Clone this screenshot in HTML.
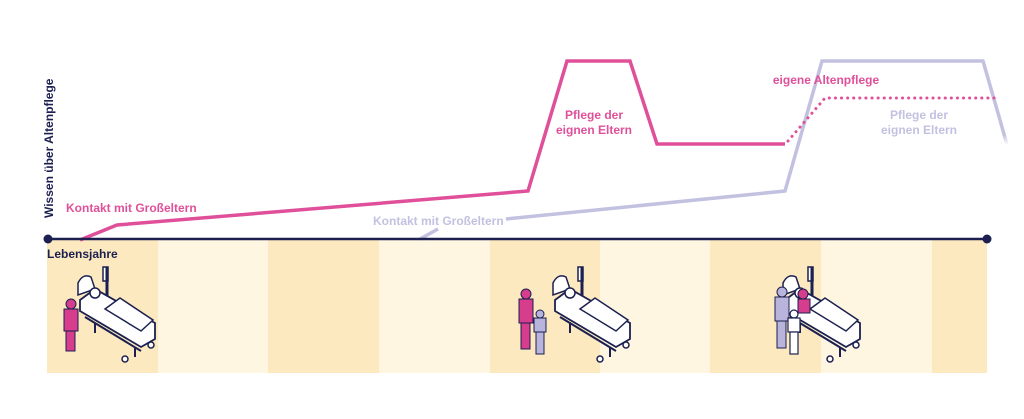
<!DOCTYPE html>
<html><head><meta charset="utf-8"><style>
body{margin:0;background:#fff;}
svg{display:block;font-family:"Liberation Sans",sans-serif;font-weight:bold;}
</style></head><body>
<svg width="1024" height="419" viewBox="0 0 1024 419">
<defs>
<linearGradient id="fade" x1="0" y1="0" x2="0" y2="1">
<stop offset="0" stop-color="#c3c1e0"/><stop offset="0.6" stop-color="#c3c1e0"/><stop offset="1" stop-color="#c3c1e0" stop-opacity="0"/>
</linearGradient>
<g id="bed">
<rect x="38" y="2" width="5" height="14" fill="#fff" stroke="#1b2050" stroke-width="1.5"/>
<line x1="42" y1="2" x2="42" y2="50" stroke="#1b2050" stroke-width="3"/>
<path d="M13,30 L13,18 Q18,8 26,12 L30,24 Z" fill="#fff" stroke="#1b2050" stroke-width="1.5"/>
<path d="M15,35 L30,24 L90,58 L90,74 L76,82 L15,46 Z" fill="#fff" stroke="#1b2050" stroke-width="1.8"/>
<path d="M40,44 L55,33 L88,55 L76,66 Z" fill="#fff" stroke="#1b2050" stroke-width="1.5"/>
<circle cx="30" cy="28" r="5" fill="#fff" stroke="#1b2050" stroke-width="1.5"/>
<line x1="20" y1="52" x2="76" y2="86" stroke="#1b2050" stroke-width="2"/>
<line x1="30" y1="58" x2="30" y2="68" stroke="#1b2050" stroke-width="2"/>
<line x1="70" y1="82" x2="70" y2="92" stroke="#1b2050" stroke-width="2"/>
<circle cx="60" cy="94" r="3" fill="#fff" stroke="#1b2050" stroke-width="1.5"/>
<circle cx="86" cy="80" r="3" fill="#fff" stroke="#1b2050" stroke-width="1.5"/>
</g>
</defs>
<g>
<rect x="47" y="240" width="111" height="133" fill="#fde9bf"/>
<rect x="158" y="240" width="110" height="133" fill="#fef6e0"/>
<rect x="268" y="240" width="111" height="133" fill="#fde9bf"/>
<rect x="379" y="240" width="111" height="133" fill="#fef6e0"/>
<rect x="490" y="240" width="110" height="133" fill="#fde9bf"/>
<rect x="600" y="240" width="110" height="133" fill="#fef6e0"/>
<rect x="710" y="240" width="111" height="133" fill="#fde9bf"/>
<rect x="821" y="240" width="111" height="133" fill="#fef6e0"/>
<rect x="932" y="240" width="55" height="133" fill="#fde9bf"/>
</g>
<!-- lavender line -->
<polyline points="420,239 438,229" fill="none" stroke="#c3c1e0" stroke-width="3.5"/>
<polyline points="506,219 785,191 822,61 983,61 1000,120" fill="none" stroke="#c3c1e0" stroke-width="3.5"/>
<line x1="1000" y1="120" x2="1007" y2="145" stroke="url(#fade)" stroke-width="3.5"/>
<!-- pink -->
<polyline points="80,240 117,225 528,191 567,61 630,61 657,144 785,144" fill="none" stroke="#e0509a" stroke-width="3.5"/>
<polyline points="788,141 825,98 995,98" fill="none" stroke="#e0509a" stroke-width="3" stroke-dasharray="0.1 6" stroke-linecap="round"/>
<!-- axis -->
<line x1="48" y1="239" x2="987" y2="239" stroke="#1b2050" stroke-width="2.5"/>
<circle cx="48" cy="239" r="4.5" fill="#1b2050"/>
<circle cx="987" cy="239" r="4.5" fill="#1b2050"/>
<text x="47" y="258" font-size="12" fill="#1b2050">Lebensjahre</text>
<text transform="translate(53,218) rotate(-90)" font-size="12" fill="#1b2050">Wissen über Altenpflege</text>
<text x="66" y="212" font-size="12" fill="#e0509a">Kontakt mit Großeltern</text>
<text x="373" y="225" font-size="12" fill="#c3c1e0">Kontakt mit Großeltern</text>
<text x="594" y="119" font-size="12" fill="#e0509a" text-anchor="middle">Pflege der</text>
<text x="594" y="134" font-size="12" fill="#e0509a" text-anchor="middle">eignen Eltern</text>
<text x="826" y="84" font-size="12" fill="#e0509a" text-anchor="middle">eigene Altenpflege</text>
<text x="919" y="119" font-size="12" fill="#c3c1e0" text-anchor="middle">Pflege der</text>
<text x="919" y="134" font-size="12" fill="#c3c1e0" text-anchor="middle">eignen Eltern</text>
<!-- beds -->
<use href="#bed" x="65" y="265"/>
<use href="#bed" x="540" y="265"/>
<use href="#bed" x="770" y="265"/>
<!-- people -->
<g fill="#d63d8c" stroke="#1b2050" stroke-width="1">
<circle cx="71" cy="304" r="5"/><rect x="64" y="309" width="14" height="22"/><rect x="66" y="331" width="9" height="20"/>
<circle cx="526" cy="294" r="5"/><rect x="519" y="299" width="14" height="24"/><rect x="521" y="323" width="9" height="26"/>
<circle cx="803" cy="294" r="5"/><rect x="798" y="299" width="12" height="14"/>
</g>
<g fill="#b8b4dc" stroke="#1b2050" stroke-width="1">
<circle cx="540" cy="314" r="4"/><rect x="534" y="318" width="12" height="14"/><rect x="536" y="332" width="8" height="22"/>
<circle cx="782" cy="292" r="5"/><rect x="775" y="297" width="14" height="24"/><rect x="777" y="321" width="9" height="27"/>
</g>
<g fill="#fff" stroke="#1b2050" stroke-width="1.2">
<circle cx="794" cy="314" r="4"/><rect x="788" y="318" width="12" height="14"/><rect x="790" y="332" width="8" height="22"/>
</g>
</svg>
</body></html>
